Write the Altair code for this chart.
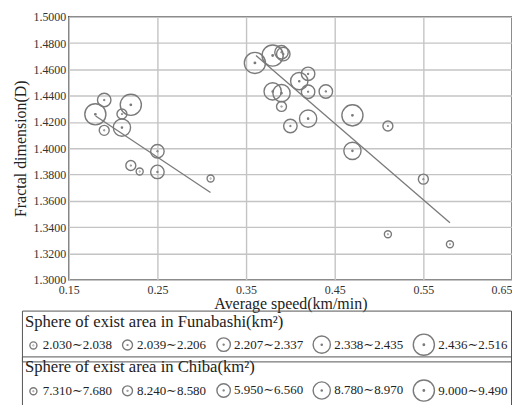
import altair as alt
import pandas as pd

# ---- data ----
fun_speed = [0.180, 0.190, 0.190, 0.210, 0.220, 0.210, 0.250, 0.250, 0.220, 0.230, 0.310]
fun_dim = [1.4258, 1.4367, 1.4136, 1.4261, 1.4330, 1.4157, 1.3977, 1.3820, 1.3869, 1.3823, 1.3770]
fun_cls = [5, 3, 2, 2, 5, 4, 3, 3, 2, 1, 1]

chi_speed = [0.360, 0.380, 0.390, 0.392, 0.410, 0.420, 0.380, 0.390, 0.420, 0.440,
             0.390, 0.420, 0.400, 0.470, 0.510, 0.470, 0.550, 0.510, 0.580]
chi_dim = [1.4649, 1.4705, 1.4730, 1.4716, 1.4510, 1.4566, 1.4432, 1.4419, 1.4430, 1.4432,
           1.4318, 1.4225, 1.4169, 1.4250, 1.4169, 1.3980, 1.3765, 1.3346, 1.3270]
chi_cls = [5, 5, 3, 3, 4, 3, 4, 4, 3, 3, 2, 4, 3, 5, 2, 4, 2, 1, 1]

fun_labels = ["2.030∼2.038", "2.039∼2.206", "2.207∼2.337", "2.338∼2.435", "2.436∼2.516"]
chi_labels = ["7.310∼7.680", "8.240∼8.580", "5.950∼6.560", "8.780∼8.970", "9.000∼9.490"]

fun_line_speed = [0.1803, 0.3099]
fun_line_dim = [1.4245, 1.3664]
chi_line_speed = [0.3612, 0.5800]
chi_line_dim = [1.4705, 1.3434]

x_ticks = [0.15, 0.25, 0.35, 0.45, 0.55, 0.65]
y_ticks = [round(1.30 + 0.02 * i, 2) for i in range(11)]
classes = [1, 2, 3, 4, 5]

# ---- tables ----
fun_df = pd.DataFrame({"speed": fun_speed, "dim": fun_dim, "cls": fun_cls})
chi_df = pd.DataFrame({"speed": chi_speed, "dim": chi_dim, "cls": chi_cls})
line_df = pd.DataFrame({
    "speed": fun_line_speed + chi_line_speed,
    "dim": fun_line_dim + chi_line_dim,
    "grp": ["Funabashi"] * 2 + ["Chiba"] * 2,
})

SERIF = "'Liberation Serif', 'Times New Roman', 'DejaVu Serif', serif"
GRAY = "#7a7a7a"
SHAPE = ("M -1 0 A 1 1 0 1 1 1 0 A 1 1 0 1 1 -1 0 Z "
         "M -0.07 0 A 0.07 0.07 0 1 1 0.07 0 A 0.07 0.07 0 1 1 -0.07 0 Z")

x_enc = alt.X("speed:Q", title="Average speed(km/min)",
              scale=alt.Scale(domain=[0.15, 0.65], nice=False, zero=False),
              axis=alt.Axis(values=x_ticks, format=".2f", grid=True, ticks=False,
                            domain=False, labelPadding=5, titlePadding=0,
                            labelFlush=False, labelOverlap=False,
                            labelAlign=alt.condition("datum.value >= 0.649",
                                                     alt.value("right"),
                                                     alt.value("center"))))
y_enc = alt.Y("dim:Q", title="Fractal dimension(D)",
              scale=alt.Scale(domain=[1.3, 1.5], nice=False, zero=False),
              axis=alt.Axis(values=y_ticks, format=".4f", grid=True, ticks=False,
                            domain=False, labelPadding=3, titlePadding=4))


def label_expr(labels):
    arr = ",".join("'" + s + "'" for s in labels)
    return "[" + arr + "][datum.value - 1]"


def legend(title, labels, ly):
    return alt.Legend(title=title, orient="none", legendX=-47, legendY=ly,
                      direction="horizontal", values=classes,
                      labelExpr=label_expr(labels),
                      symbolType=SHAPE,
                      symbolStrokeColor=GRAY, symbolFillColor="transparent",
                      symbolStrokeWidth=1.4, strokeColor="#555", padding=3,
                      titleFont=SERIF, titleFontSize=16.7, titleFontWeight="normal",
                      titleColor="#222", titlePadding=3, titleLimit=480,
                      labelFont=SERIF, labelFontSize=13, labelColor="#222",
                      labelLimit=200, labelOffset=3, columnPadding=6.5, symbolOffset=2)


def size_scale():
    return alt.Scale(type="pow", exponent=2, domain=[1, 5], range=[50, 450], zero=False)


pts_f = alt.Chart(fun_df).mark_point(shape=SHAPE, filled=False, color=GRAY,
                                     strokeWidth=1.4, opacity=1).encode(
    x=x_enc, y=y_enc,
    size=alt.Size("cls:Q", scale=size_scale(),
                  legend=legend("Sphere of exist area in Funabashi(km²)", fun_labels, 295)),
)
pts_c = alt.Chart(chi_df).mark_point(shape=SHAPE, filled=False, color=GRAY,
                                     strokeWidth=1.4, opacity=1).encode(
    x=x_enc, y=y_enc,
    size=alt.Size("cls:Q", scale=size_scale(),
                  legend=legend("Sphere of exist area in Chiba(km²)", chi_labels, 341)),
)
lines = alt.Chart(line_df).mark_line(color=GRAY, strokeWidth=1.3).encode(
    x=x_enc, y=y_enc, detail="grp:N")

chart = alt.layer(lines, pts_f, pts_c).resolve_scale(size="independent").properties(
    width=445, height=264,
    padding={"left": 5, "top": 2, "right": 0, "bottom": 0},
).configure_view(stroke="#555", strokeWidth=1.5).configure_axis(
    labelFont=SERIF, labelFontSize=12, labelColor="#333",
    titleFont=SERIF, titleFontSize=16, titleFontWeight="normal", titleColor="#222",
    gridColor="#c4c4c4", gridWidth=1.4,
)

chart.save("out.html", embed_options={"renderer": "svg", "actions": False})
